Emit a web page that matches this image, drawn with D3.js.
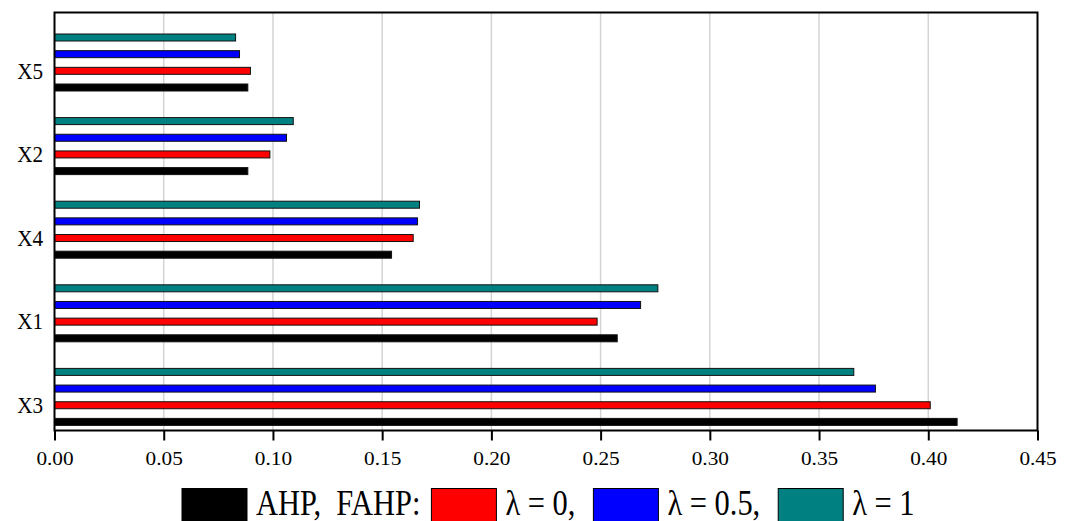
<!DOCTYPE html>
<html>
<head>
<meta charset="utf-8">
<script src="https://cdn.jsdelivr.net/npm/d3@7"></script>
<style>
body { margin: 0; background: #fff; }
svg { display: block; }
</style>
</head>
<body>
<svg></svg>
<script>
// categories from top to bottom
const categories = ["X5", "X2", "X4", "X1", "X3"];
const seriesKeys = ["ahp", "l0", "l05", "l1"];
const ahp    = [0.0885, 0.0885, 0.1543, 0.2576, 0.4132];
const fahp0  = [0.0897, 0.0986, 0.1642, 0.2484, 0.4009];
const fahp05 = [0.0847, 0.1062, 0.1662, 0.2683, 0.3758];
const fahp1  = [0.0829, 0.1093, 0.1671, 0.2762, 0.3659];
const colors = ["#000000", "#ff0000", "#0000ff", "#008080"];
const legendLabels = ["AHP,\u00a0 FAHP:", "λ = 0,", "λ = 0.5,", "λ = 1"];
const xTicks = [0, 0.05, 0.10, 0.15, 0.20, 0.25, 0.30, 0.35, 0.40, 0.45];

const W = 1073, H = 521;
const plotLeft = 54.5, plotTop = 12.5, plotRight = 1037.5, plotBottom = 430.5;
const font = "'Liberation Serif', 'Times New Roman', serif";

var svg = d3.select("svg").attr("width", W).attr("height", H);

var values = [ahp, fahp0, fahp05, fahp1];
var data = [];
for(var c=0; c<categories.length; c++){
	for(var s=0; s<seriesKeys.length; s++){
		data.push({cat: categories[c], key: seriesKeys[s], v: values[s][c], color: colors[s]});
	}
}

var x = d3.scaleLinear().domain([0, 0.45]).range([plotLeft, plotRight]);
var y0 = d3.scaleBand().domain(categories).range([plotTop, plotBottom]);
// inside a band the bars run λ=1 on top down to AHP
var y1 = d3.scaleBand().domain(seriesKeys.slice().reverse())
	.range([21.5, 78.5]).paddingInner(0.58).paddingOuter(0);

// grid
svg.append("g").selectAll("line")
	.data(xTicks.filter(d => d > 0 && d < 0.45))
	.enter().append("line")
	.attr("x1", d => x(d)).attr("x2", d => x(d))
	.attr("y1", plotTop).attr("y2", plotBottom)
	.style("stroke", "#d4d4d4")
	.style("stroke-width", 1.5);

// bars
svg.append("g").selectAll("rect")
	.data(data)
	.enter().append("rect")
	.attr("x", x(0))
	.attr("y", d => y0(d.cat) + y1(d.key))
	.attr("width", d => x(d.v) - x(0))
	.attr("height", y1.bandwidth())
	.style("fill", d => d.color)
	.style("stroke", "#111")
	.style("stroke-width", 1);

// frame
svg.append("rect")
	.attr("x", plotLeft).attr("y", plotTop)
	.attr("width", plotRight - plotLeft).attr("height", plotBottom - plotTop)
	.style("fill", "none")
	.style("stroke", "#000")
	.style("stroke-width", 2);

// x axis
var xAxis = svg.append("g")
	.attr("transform", "translate(0," + plotBottom + ")")
	.call(d3.axisBottom(x).tickValues(xTicks).tickFormat(d3.format(".2f")).tickSize(10).tickPadding(11));
xAxis.select(".domain").remove();
xAxis.selectAll(".tick line").style("stroke", "#000").style("stroke-width", 2);
xAxis.selectAll(".tick text")
	.style("font-family", font)
	.style("font-size", "19px")
	.style("fill", "#000")
	.attr("transform", "scale(1.12,1)");

// y labels
svg.append("g").selectAll("text")
	.data(categories)
	.enter().append("text")
	.attr("transform", d => "translate(43," + (y0(d) + 66) + ") scale(0.92,1)")
	.attr("text-anchor", "end")
	.style("font-family", font)
	.style("font-size", "23px")
	.style("fill", "#000")
	.text(d => d);

// legend
var legend = svg.append("g");
var lx = 182;
var sx = 0.87;
var gaps = [11, 18, 18, 0];
for(var i=0; i<legendLabels.length; i++){
	legend.append("rect")
		.attr("x", lx).attr("y", 488.5)
		.attr("width", 65).attr("height", 40)
		.style("fill", colors[i])
		.style("stroke", "#000")
		.style("stroke-width", 1);
	lx += 65 + 9;
	var t = legend.append("text")
		.attr("transform", "translate(" + lx + ",515) scale(" + sx + ",1)")
		.style("font-family", font)
		.style("font-size", "35px")
		.style("fill", "#000")
		.text(legendLabels[i]);
	lx += t.node().getComputedTextLength()*sx + gaps[i];
}
</script>
</body>
</html>
